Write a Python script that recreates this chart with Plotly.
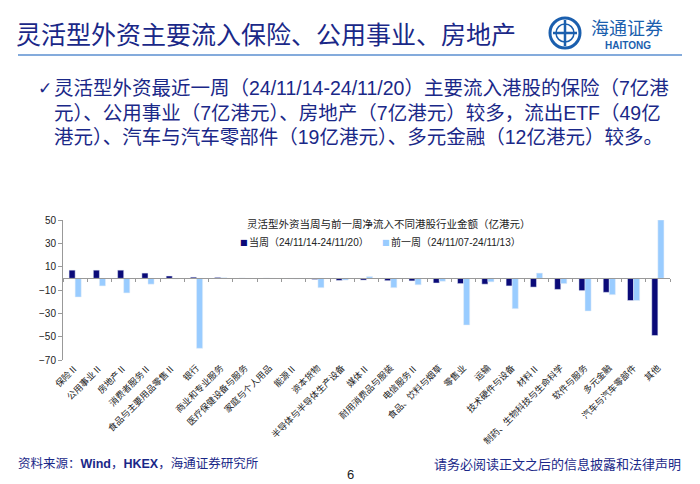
import plotly.graph_objects as go

categories = ["保险Ⅱ", "公用事业Ⅱ", "房地产Ⅱ", "消费者服务Ⅱ", "食品与主要用品零售Ⅱ", "银行",
              "商业和专业服务", "医疗保健设备与服务", "家庭与个人用品", "能源Ⅱ", "资本货物",
              "半导体与半导体生产设备", "媒体Ⅱ", "耐用消费品与服装", "电信服务Ⅱ", "食品、饮料与烟草",
              "零售业", "运输", "技术硬件与设备", "材料Ⅱ", "制药、生物科技与生命科学", "软件与服务",
              "多元金融", "汽车与汽车零部件", "其他"]
cur_week = [7, 7, 7, 4.5, 2, 1, 0.8, 0.3, 0.2, -0.3, -1, -1.8, -1.5, -2, -2.2, -4, -4.5,
            -5, -6.5, -7.5, -9.5, -10.5, -12, -19, -49]
prev_week = [-16, -6.5, -12.5, -5, -0.5, -60, 0.5, -0.3, -0.2, -0.5, -8, -1.5, 1.5, -8,
             -5.5, -2.5, -40, -3, -26, 4.5, -4.5, -28, -14, -19, 50]
series_names = ["当周（24/11/14-24/11/20）", "前一周（24/11/07-24/11/13）"]
y_ticks = [50, 30, 10, -10, -30, -50, -70]

W, H = 700, 484
ML, MR, MT, MB = 63, 30, 220, 124
PW, PH = W - ML - MR, H - MT - MB


def px(x):
    return (x - ML) / PW


def py(y):
    return 1 - (y - MT) / PH


NAVY = "#1a2888"
CJK = "Noto Sans CJK SC"
MIX = "Liberation Sans, Arial, Noto Sans CJK SC"
DARK = "#0a0a78"
LIGHT = "#99ccff"
LOGO = "#1b5fae"

fig = go.Figure()
fig.add_trace(go.Bar(x=categories, y=cur_week, name=series_names[0], marker_color=DARK,
                     showlegend=False))
fig.add_trace(go.Bar(x=categories, y=prev_week, name=series_names[1], marker_color=LIGHT,
                     showlegend=False))

fig.update_layout(
    width=W, height=H, margin=dict(l=ML, r=MR, t=MT, b=MB, autoexpand=False),
    paper_bgcolor="white", plot_bgcolor="white",
    barmode="group", bargap=0.5, bargroupgap=0,
    font=dict(family=MIX, color="#222"),
    xaxis=dict(type="category", categoryorder="array", categoryarray=categories,
               tickangle=-45, tickfont=dict(family=CJK, size=9, color="#222"),
               showline=False, showgrid=False, ticks="", automargin=False,
               range=[-0.5, len(categories) - 0.5]),
    xaxis2=dict(overlaying="x", anchor="free", position=70 / 120,
                range=[-0.5, len(categories) - 0.5], tick0=-0.5, dtick=1,
                showticklabels=False, ticks="outside", ticklen=3, tickcolor="#999",
                showline=True, linecolor="#999", linewidth=1, showgrid=False, zeroline=False),
    yaxis=dict(range=[-70, 50], tickvals=y_ticks, showgrid=False, zeroline=False,
               showline=True, linecolor="#999", linewidth=1, ticks="outside", ticklen=4,
               tickcolor="#999", tickfont=dict(family="Liberation Sans, Arial", size=10, color="#222"),
               automargin=False),
)

# invisible anchor trace for the zero-line axis
fig.add_trace(go.Scatter(x=[-0.5, len(categories) - 0.5], y=[0, 0], xaxis="x2", mode="lines",
                         line=dict(width=0), hoverinfo="skip", showlegend=False))

ann = []
# slide title
ann.append(dict(x=px(14), y=py(33), xanchor="left", yanchor="middle",
                text="灵活型外资主要流入保险、公用事业、房地产",
                font=dict(family=CJK, size=25, color=NAVY)))
# logo text
ann.append(dict(x=px(589), y=py(27), xanchor="left", yanchor="middle", text="海通证券",
                font=dict(family=CJK, size=18, color=LOGO)))
ann.append(dict(x=px(603), y=py(45), xanchor="left", yanchor="middle", text="<b>HAITONG</b>",
                font=dict(family="Liberation Sans, Arial", size=10, color=LOGO)))
# bullet
ann.append(dict(x=px(36), y=py(88), xanchor="left", yanchor="middle", text="✓",
                font=dict(family="DejaVu Sans", size=17, color=NAVY)))
lines = ["灵活型外资最近一周（24/11/14-24/11/20）主要流入港股的保险（7亿港",
         "元）、公用事业（7亿港元）、房地产（7亿港元）较多，流出ETF（49亿",
         "港元）、汽车与汽车零部件（19亿港元）、多元金融（12亿港元）较多。"]
for i, t in enumerate(lines):
    ann.append(dict(x=px(52), y=py(88 + 24.5 * i), xanchor="left", yanchor="middle", text=t,
                    font=dict(family=MIX, size=19.5, color=NAVY)))
# chart title
ann.append(dict(x=px(245), y=py(223), xanchor="left", yanchor="middle",
                text="灵活型外资当周与前一周净流入不同港股行业金额（亿港元）",
                font=dict(family=CJK, size=10.5, color="#222")))
# legend
for mx, col, name in [(238, DARK, series_names[0]), (380, LIGHT, series_names[1])]:
    ann.append(dict(x=px(mx), y=py(242), xanchor="left", yanchor="middle", text="■",
                    font=dict(family="DejaVu Sans", size=8, color=col)))
    ann.append(dict(x=px(mx + 9), y=py(242), xanchor="left", yanchor="middle", text=name,
                    font=dict(family=MIX, size=10, color="#222")))
# footer
ann.append(dict(x=px(16), y=py(463), xanchor="left", yanchor="middle",
                text="资料来源：<b>Wind</b>，<b>HKEX</b>，海通证券研究所",
                font=dict(family=MIX, size=12.5, color=NAVY)))
ann.append(dict(x=px(683), y=py(463), xanchor="right", yanchor="middle",
                text="请务必阅读正文之后的信息披露和法律声明",
                font=dict(family=CJK, size=13, color=NAVY)))
ann.append(dict(x=px(350), y=py(474), xanchor="center", yanchor="middle", text="6",
                font=dict(family="Liberation Sans, Arial", size=13, color="#222")))
for a in ann:
    a.update(xref="paper", yref="paper", showarrow=False)
fig.update_layout(annotations=ann)

shapes = [
    dict(type="line", xref="paper", yref="paper", x0=px(18), x1=px(682), y0=py(55), y1=py(55),
         line=dict(color="#5b8fd0", width=1.5)),
    dict(type="circle", xref="paper", yref="paper", x0=px(550), x1=px(580), y0=py(48), y1=py(18),
         line=dict(color=LOGO, width=3)),
    dict(type="line", xref="paper", yref="paper", x0=px(565), x1=px(565), y0=py(20), y1=py(46),
         line=dict(color=LOGO, width=2.5)),
    dict(type="line", xref="paper", yref="paper", x0=px(553), x1=px(577), y0=py(33), y1=py(33),
         line=dict(color=LOGO, width=2.5)),
    dict(type="circle", xref="paper", yref="paper", x0=px(556), x1=px(574), y0=py(42), y1=py(24),
         line=dict(color=LOGO, width=1.5)),
]
fig.update_layout(shapes=shapes)

fig.write_html("out.html")
